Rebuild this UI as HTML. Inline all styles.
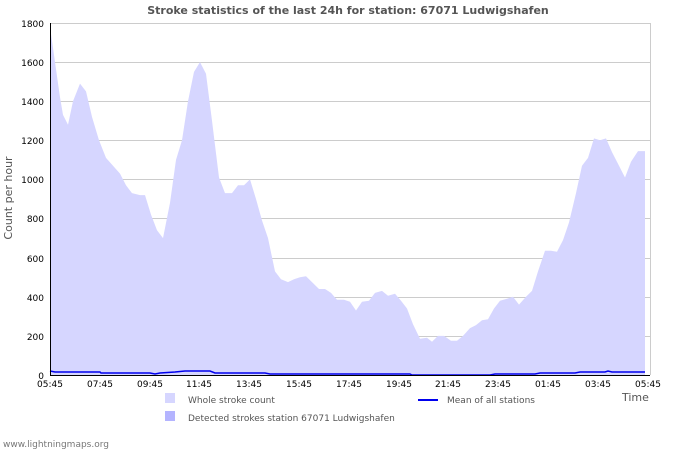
<!DOCTYPE html>
<html><head><meta charset="utf-8"><style>body{margin:0;background:#fff}svg{display:block}</style></head><body>
<svg width="700" height="450" xmlns="http://www.w3.org/2000/svg" font-family="'DejaVu Sans','Liberation Sans',sans-serif">
<rect width="700" height="450" fill="#fff"/>
<text x="348" y="14" text-anchor="middle" font-size="11" font-weight="bold" fill="#555">Stroke statistics of the last 24h for station: 67071 Ludwigshafen</text>
<g stroke="#ccc" stroke-width="1">
<line x1="51" y1="23.5" x2="650" y2="23.5"/><line x1="51" y1="62.5" x2="650" y2="62.5"/><line x1="51" y1="101.5" x2="650" y2="101.5"/><line x1="51" y1="140.5" x2="650" y2="140.5"/><line x1="51" y1="179.5" x2="650" y2="179.5"/><line x1="51" y1="218.5" x2="650" y2="218.5"/><line x1="51" y1="258.5" x2="650" y2="258.5"/><line x1="51" y1="297.5" x2="650" y2="297.5"/><line x1="51" y1="336.5" x2="650" y2="336.5"/>
<line x1="650.5" y1="23" x2="650.5" y2="375"/>
</g>
<polygon id="area" fill="#d6d6ff" points=""/>
<polyline id="mean" fill="none" stroke="#0000ee" stroke-width="1.5" points=""/>
<g stroke="#000" stroke-width="1"><line x1="50.5" y1="23" x2="50.5" y2="376"/><line x1="50" y1="375.5" x2="650" y2="375.5"/></g>
<g id="ticks" stroke="#000" stroke-width="1"></g>
<g font-size="9" fill="#000" text-anchor="end">
<text x="44" y="27">1800</text><text x="44" y="66">1600</text><text x="44" y="105">1400</text><text x="44" y="144">1200</text><text x="44" y="183">1000</text><text x="44" y="222">800</text><text x="44" y="262">600</text><text x="44" y="301">400</text><text x="44" y="340">200</text><text x="44" y="379">0</text>
</g>
<g font-size="9" fill="#000" text-anchor="middle">
<text x="50" y="387">05:45</text><text x="100" y="387">07:45</text><text x="150" y="387">09:45</text><text x="199" y="387">11:45</text><text x="249" y="387">13:45</text><text x="299" y="387">15:45</text><text x="349" y="387">17:45</text><text x="399" y="387">19:45</text><text x="448" y="387">21:45</text><text x="498" y="387">23:45</text><text x="548" y="387">01:45</text><text x="598" y="387">03:45</text><text x="648" y="387">05:45</text>
</g>
<text x="622" y="401" font-size="11" fill="#555">Time</text>
<text transform="translate(12,198) rotate(-90)" font-size="11" fill="#555" text-anchor="middle">Count per hour</text>
<rect x="165" y="393" width="10" height="10" fill="#d6d6ff"/>
<text x="188" y="403" font-size="9" fill="#555">Whole stroke count</text>
<rect x="165" y="411" width="10" height="10" fill="#b4b4ff"/>
<text x="188" y="421" font-size="9" fill="#555">Detected strokes station 67071 Ludwigshafen</text>
<line x1="418" y1="400" x2="438" y2="400" stroke="#0000ee" stroke-width="2"/>
<text x="447" y="403" font-size="9" fill="#555">Mean of all stations</text>
<text x="3" y="447" font-size="9" fill="#777">www.lightningmaps.org</text>
<script>
var d=[[50,1780],[55,1600],[60,1420],[63,1330],[68,1280],[73,1400],[80,1490],[86,1450],[92,1320],[99,1200],[106,1110],[113,1070],[120,1030],[126,970],[132,930],[140,920],[145,920],[151,820],[157,740],[163,700],[170,880],[176,1100],[182,1200],[188,1400],[194,1550],[200,1600],[206,1540],[212,1300],[219,1010],[225,930],[232,930],[238,970],[244,970],[250,1000],[256,900],[262,790],[268,700],[275,530],[281,490],[288,475],[294,490],[300,500],[306,505],[312,475],[319,440],[325,440],[331,420],[337,385],[344,385],[350,375],[356,330],[362,375],[369,380],[375,420],[382,430],[388,405],[395,415],[401,380],[407,340],[413,260],[420,185],[427,190],[432,170],[438,200],[444,200],[451,175],[457,175],[463,200],[470,240],[476,255],[482,280],[488,285],[494,340],[500,380],[507,390],[513,400],[519,360],[526,400],[532,430],[538,530],[545,635],[551,635],[557,630],[563,690],[569,780],[576,930],[582,1070],[588,1110],[594,1210],[600,1200],[606,1210],[612,1140],[619,1070],[625,1010],[631,1090],[638,1145],[645,1145]];
var p="50,375 ";d.forEach(function(a){p+=a[0]+","+(375-a[1]*0.19556).toFixed(1)+" ";});p+="645,375";
document.getElementById("area").setAttribute("points",p);
var m=[[50,371],[55,372],[100,372],[101,373],[150,373],[155,374],[160,373],[175,372],[185,371],[210,371],[215,373],[265,373],[270,374],[410,374],[412,375],[490,375],[495,374],[535,374],[540,373],[575,373],[580,372],[605,372],[608,371],[612,372],[645,372]];
document.getElementById("mean").setAttribute("points",m.map(function(a){return a[0]+","+a[1]}).join(" "));
var t="";for(var i=0;i<=96;i++){var x=50.5+i*6.23;t+='<line x1="'+x+'" y1="'+(i%8==0?370:372)+'" x2="'+x+'" y2="'+(i%8==0?379:375)+'"/>';}
for(var v=100;v<1800;v+=200){var y=375.5-v*0.19556;t+='<line x1="50" y1="'+y+'" x2="54" y2="'+y+'"/>';}
document.getElementById("ticks").innerHTML=t;
</script>
</svg>
</body></html>
